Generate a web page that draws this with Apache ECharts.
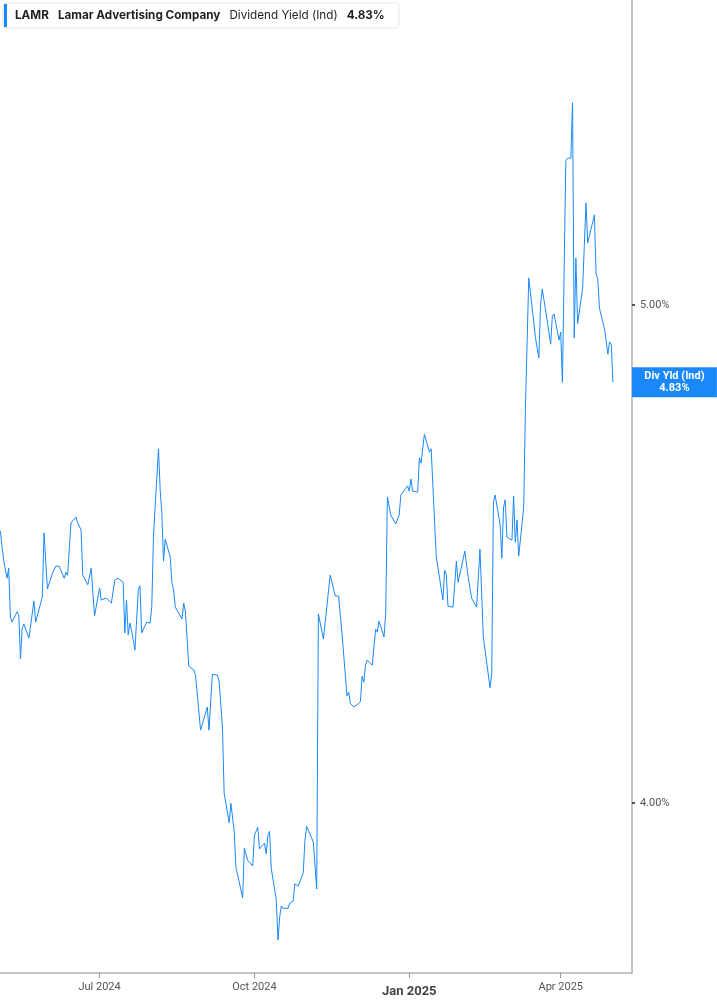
<!DOCTYPE html>
<html>
<head>
<meta charset="utf-8">
<script src="https://cdn.jsdelivr.net/npm/echarts@6/dist/echarts.min.js"></script>
<style>
html,body{margin:0;padding:0;background:#fff;}
#chart{width:717px;height:1005px;}
</style>
</head>
<body>
<div id="chart"></div>
<script>
const ticker = 'LAMR';
const company = 'Lamar Advertising Company';
const metric = 'Dividend Yield (Ind)';
const badgeName = 'Div Yld (Ind)';
const lastValueLabel = '4.83%';
const yTickValues = [4, 5];
const xTickDates = ['2024-07-01', '2024-10-01', '2025-01-01', '2025-04-01'];

const dates = [
'2024-05-03','2024-05-05','2024-05-07','2024-05-08','2024-05-09','2024-05-10','2024-05-13','2024-05-14','2024-05-15','2024-05-16',
'2024-05-17','2024-05-20','2024-05-21','2024-05-23','2024-05-24','2024-05-28','2024-05-29','2024-05-31','2024-06-03','2024-06-05',
'2024-06-07','2024-06-10','2024-06-11','2024-06-12','2024-06-14','2024-06-17','2024-06-18','2024-06-20','2024-06-21','2024-06-24',
'2024-06-25','2024-06-26','2024-06-28','2024-07-01','2024-07-02','2024-07-05','2024-07-08','2024-07-10','2024-07-12','2024-07-15',
'2024-07-16','2024-07-17','2024-07-18','2024-07-19','2024-07-20','2024-07-22','2024-07-23','2024-07-24','2024-07-25','2024-07-26',
'2024-07-29','2024-07-31','2024-08-01','2024-08-02','2024-08-03','2024-08-05','2024-08-06','2024-08-07','2024-08-08','2024-08-09',
'2024-08-12','2024-08-13','2024-08-14','2024-08-15','2024-08-19','2024-08-20','2024-08-21','2024-08-22','2024-08-23','2024-08-26',
'2024-08-27','2024-08-28','2024-08-30','2024-09-03','2024-09-04','2024-09-06','2024-09-09','2024-09-10','2024-09-12','2024-09-13',
'2024-09-16','2024-09-17','2024-09-19','2024-09-20','2024-09-24','2024-09-25','2024-09-26','2024-09-27','2024-09-30','2024-10-01',
'2024-10-03','2024-10-04','2024-10-07','2024-10-08','2024-10-09','2024-10-10','2024-10-11','2024-10-14','2024-10-15','2024-10-16',
'2024-10-17','2024-10-18','2024-10-21','2024-10-22','2024-10-24','2024-10-25','2024-10-27','2024-10-28','2024-10-30','2024-10-31',
'2024-11-01','2024-11-04','2024-11-05','2024-11-06','2024-11-07','2024-11-08','2024-11-11','2024-11-15','2024-11-18','2024-11-19',
'2024-11-20','2024-11-22','2024-11-25','2024-11-26','2024-11-27','2024-11-29','2024-12-02','2024-12-03','2024-12-04','2024-12-05',
'2024-12-06','2024-12-07','2024-12-10','2024-12-11','2024-12-12','2024-12-13','2024-12-14','2024-12-15','2024-12-17','2024-12-18',
'2024-12-19','2024-12-21','2024-12-24','2024-12-26','2024-12-27','2024-12-30','2024-12-31','2025-01-01','2025-01-02','2025-01-03',
'2025-01-06','2025-01-07','2025-01-08','2025-01-10','2025-01-13','2025-01-14','2025-01-15','2025-01-17','2025-01-21','2025-01-22',
'2025-01-23','2025-01-24','2025-01-27','2025-01-29','2025-01-30','2025-02-03','2025-02-04','2025-02-05','2025-02-06','2025-02-07',
'2025-02-10','2025-02-12','2025-02-14','2025-02-18','2025-02-19','2025-02-20','2025-02-21','2025-02-24','2025-02-25','2025-02-26',
'2025-02-27','2025-02-28','2025-03-03','2025-03-04','2025-03-05','2025-03-06','2025-03-07','2025-03-10','2025-03-11','2025-03-13',
'2025-03-17','2025-03-19','2025-03-20','2025-03-21','2025-03-24','2025-03-25','2025-03-26','2025-03-27','2025-03-28','2025-03-31',
'2025-04-01','2025-04-02','2025-04-04','2025-04-05','2025-04-07','2025-04-08','2025-04-09','2025-04-10','2025-04-11','2025-04-14',
'2025-04-16','2025-04-17','2025-04-21','2025-04-22','2025-04-23','2025-04-24','2025-04-25','2025-04-27','2025-04-29','2025-04-30',
'2025-05-01','2025-05-02'
];

const yields = [
4.519,4.460,4.424,4.444,4.348,4.338,4.358,4.352,4.267,4.326,
4.334,4.307,4.305,4.379,4.338,4.387,4.515,4.403,4.434,4.448,
4.448,4.424,4.436,4.430,4.535,4.547,4.535,4.521,4.430,4.411,
4.413,4.444,4.350,4.405,4.381,4.385,4.375,4.420,4.424,4.416,
4.317,4.381,4.313,4.336,4.322,4.284,4.282,4.401,4.409,4.317,
4.338,4.336,4.367,4.506,4.567,4.688,4.602,4.555,4.458,4.502,
4.466,4.414,4.401,4.367,4.344,4.375,4.358,4.356,4.253,4.246,
4.236,4.238,4.133,4.176,4.133,4.238,4.236,4.225,4.139,4.018,
3.965,4.000,3.949,3.887,3.834,3.920,3.920,3.899,3.889,3.943,
3.957,3.919,3.929,3.910,3.942,3.950,3.885,3.830,3.762,3.801,
3.820,3.816,3.816,3.825,3.828,3.858,3.854,3.852,3.877,3.934,
3.959,3.938,3.931,3.931,3.849,4.354,4.305,4.430,4.389,4.387,
4.389,4.317,4.197,4.204,4.183,4.176,4.183,4.187,4.234,4.223,
4.255,4.265,4.255,4.253,4.324,4.319,4.340,4.338,4.309,4.356,
4.588,4.551,4.533,4.551,4.592,4.606,4.611,4.600,4.625,4.600,
4.598,4.669,4.658,4.719,4.681,4.688,4.686,4.468,4.381,4.440,
4.432,4.369,4.367,4.458,4.416,4.478,4.474,4.426,4.424,4.385,
4.367,4.482,4.309,4.212,4.240,4.578,4.592,4.531,4.464,4.567,
4.582,4.506,4.500,4.590,4.496,4.541,4.468,4.567,4.772,5.061,
4.927,4.883,5.000,5.036,4.964,4.964,4.913,4.975,4.980,4.922,
4.940,4.830,5.333,5.340,5.340,5.474,4.927,5.106,4.958,5.038,
5.234,5.141,5.206,5.070,5.059,4.993,4.996,4.947,4.891,4.918,
4.913,4.830
];

function ts(s) { const p = s.split('-').map(Number); return new Date(p[0], p[1] - 1, p[2]).getTime(); }
const MONTHS = ['Jan','Feb','Mar','Apr','May','Jun','Jul','Aug','Sep','Oct','Nov','Dec'];

const seriesData = dates.map((d, i) => [ts(d), yields[i]]);
const xTicks = xTickDates.map(ts);

const chart = echarts.init(document.getElementById('chart'), null, { renderer: 'canvas' });
chart.setOption({
  animation: false,
  backgroundColor: '#fff',
  textStyle: { fontFamily: 'Inter, Roboto, sans-serif' },
  grid: { left: 0, right: 85, top: 0, bottom: 32, containLabel: false },
  legend: {
    show: true,
    left: 3, top: 3,
    data: [{ name: ticker, icon: 'rect' }],
    itemWidth: 3, itemHeight: 23, itemGap: 0,
    backgroundColor: '#fff',
    borderColor: '#e6e6e6', borderWidth: 1, borderRadius: 3,
    padding: [1, 14, 1, 1],
    selectedMode: false,
    formatter: function () {
      return '{b|' + ticker + '}{bg|' + company + '}{ng|' + metric + '}{bg|' + lastValueLabel + '}';
    },
    textStyle: {
      padding: [0, 0, 0, 3],
      rich: {
        b: { fontFamily: 'Inter', fontWeight: 'bold', fontSize: 11.7, color: '#1f1f1f' },
        bg: { fontFamily: 'Inter', fontWeight: 'bold', fontSize: 11.7, color: '#1f1f1f', padding: [0, 0, 0, 9] },
        ng: { fontFamily: 'Inter', fontWeight: 'normal', fontSize: 11.7, color: '#1f1f1f', padding: [0, 0, 0, 9] }
      }
    }
  },
  xAxis: {
    type: 'value',
    min: new Date(2024, 4, 2, 20).getTime(),
    max: new Date(2025, 4, 13, 8).getTime(),
    splitLine: { show: false },
    axisLine: { show: true, onZero: false, lineStyle: { color: '#b3b3b3', width: 1.5 } },
    axisTick: { show: true, customValues: xTicks, length: 5, lineStyle: { color: '#999' } },
    axisLabel: {
      customValues: xTicks,
      margin: 9,
      fontFamily: 'Roboto',
      fontSize: 11,
      color: '#555',
      formatter: function (v) {
        const d = new Date(v);
        const s = MONTHS[d.getMonth()] + ' ' + d.getFullYear();
        return d.getMonth() === 0 ? '{y|' + s + '}' : s;
      },
      rich: { y: { fontFamily: 'Roboto', fontSize: 13, fontWeight: 'bold', color: '#444', padding: [3, 0, 0, 0] } }
    }
  },
  yAxis: {
    type: 'log',
    logBase: 10,
    position: 'right',
    min: 3.707,
    max: 5.732,
    splitLine: { show: false },
    axisLine: { show: true, lineStyle: { color: '#b3b3b3', width: 1.5 } },
    axisTick: { show: true, customValues: yTickValues, length: 3, lineStyle: { color: '#555', width: 2 } },
    axisLabel: {
      customValues: yTickValues,
      margin: 8,
      fontFamily: 'Roboto',
      fontSize: 11,
      color: '#555',
      formatter: function (v) { return Number(v).toFixed(2) + '%'; }
    }
  },
  series: [{
    name: ticker,
    type: 'line',
    data: seriesData,
    showSymbol: false,
    symbol: 'none',
    color: '#1a88f8',
    lineStyle: { color: '#1a88f8', width: 1 },
    silent: true,
    endLabel: {
      show: true,
      distance: 19,
      formatter: function () { return '{a|' + badgeName + '}\n{a|' + lastValueLabel + '}'; },
      backgroundColor: '#1a88f8',
      padding: [3, 0, 3, 0],
      verticalAlign: 'middle',
      rich: {
        a: { width: 85, align: 'center', color: '#fff', fontFamily: 'Roboto', fontWeight: 'bold', fontSize: 11, lineHeight: 12 }
      }
    }
  }]
});
</script>
</body>
</html>
